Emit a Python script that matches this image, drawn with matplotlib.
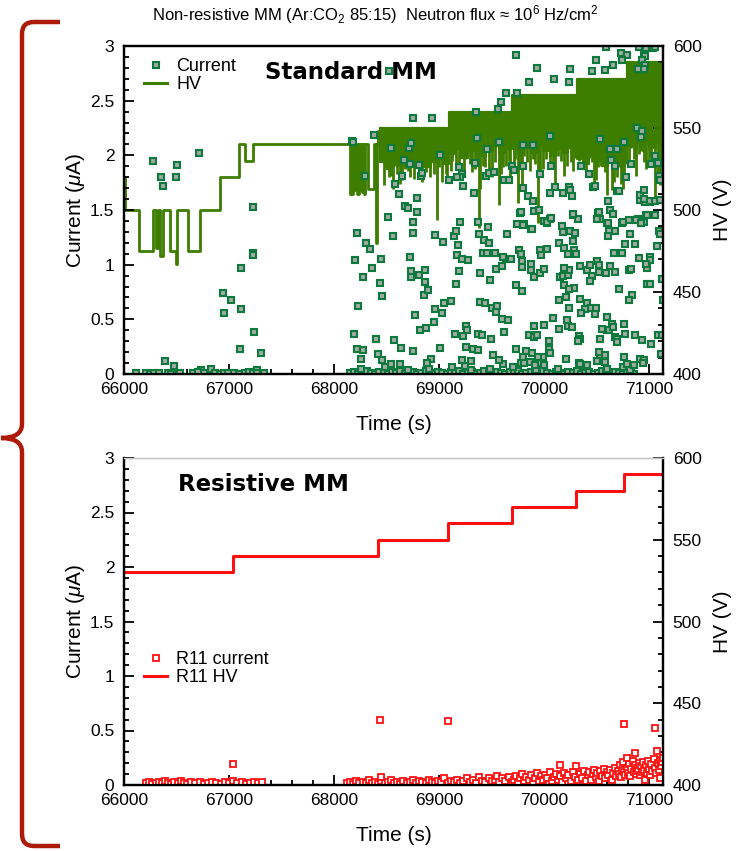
import numpy as np
import matplotlib
matplotlib.use("Agg")
import matplotlib.pyplot as plt
from matplotlib.lines import Line2D
from matplotlib.path import Path
from matplotlib.patches import PathPatch
from matplotlib.ticker import MultipleLocator, FuncFormatter

plt.rcParams['font.family'] = ['Liberation Sans', 'DejaVu Sans']
plt.rcParams['mathtext.fontset'] = 'custom'
plt.rcParams['mathtext.rm'] = 'Liberation Sans'
plt.rcParams['mathtext.it'] = 'Liberation Sans:italic'

# ---------------- data ----------------
t_min, t_max = 66000, 71130

# standard MM: HV steps before the noisy part
std_hv_t = [66000, 66005, 66146, 66279, 66301, 66321, 66343, 66374, 66438, 66495, 66505,
            66613, 66724, 66914, 67095, 67152, 67232,
            68150, 68165, 68172, 68180, 68190, 68198, 68216, 68232, 68241, 68250, 68263,
            68272, 68283, 68295, 68327, 68375, 68395, 68410, 68422, 68430, 68440]
std_hv_v = [520, 500, 475, 500, 477, 500, 472, 500, 475, 467, 500,
            475, 500, 520, 540, 530, 540,
            510, 540, 510, 540, 512, 540, 510, 540, 512, 540, 511,
            540, 510, 540, 513, 540, 480, 540, 548, 540, 550]

# standard MM: noisy HV band (set value and lower edge of the fast oscillation)
band_t = [68440, 68500, 68560, 68620, 68680, 68740, 68800, 68860, 68920, 68980, 69040,
          69090, 69150, 69210, 69270, 69330, 69390, 69450, 69510, 69570, 69630,
          69690, 69750, 69810, 69870, 69930, 69990, 70050, 70110, 70170, 70230, 70290,
          70310, 70370, 70430, 70490, 70550, 70610, 70670, 70730,
          70790, 70860, 70885, 70940, 70948, 71000, 71060, 71140]
band_hi = [550, 550, 550, 550, 550, 550, 550, 550, 550, 550, 550,
           560, 560, 560, 560, 560, 560, 560, 560, 560, 560,
           570, 570, 570, 570, 570, 570, 570, 570, 570, 570, 570,
           580, 580, 580, 580, 580, 580, 580, 580,
           590, 580, 590, 580, 590, 590, 590, 590]
band_lo = [529, 525, 530, 527, 531, 528, 530, 526, 529, 531, 528,
           534, 537, 532, 536, 538, 533, 536, 539, 535, 537,
           537, 534, 538, 535, 539, 536, 533, 537, 535, 538, 536,
           531, 528, 533, 530, 527, 532, 529, 531,
           539, 537, 541, 536, 540, 538, 541, 537]

# standard MM: HV drops (time, lowest value)
spike_t = [68470, 68520, 68559, 68600, 68650, 68700, 68760, 68819, 68870, 68914, 68978, 69030, 69060,
           69110, 69160, 69232, 69290, 69340, 69378, 69391, 69440, 69500, 69565, 69610, 69660,
           69710, 69746, 69787, 69840, 69890, 69937, 69990, 70050, 70105, 70160, 70220, 70270,
           70330, 70380, 70430, 70470, 70510, 70560, 70597, 70640, 70690, 70730, 70760,
           70810, 70850, 70900, 70950, 71000, 71057, 71100,
           68490, 68540, 68580, 68630, 68670, 68720, 68780, 68840, 68890, 68950, 69000, 69075,
           69125, 69190, 69250, 69310, 69360, 69420, 69470, 69530, 69590, 69640, 69675,
           69725, 69770, 69810, 69865, 69910, 69960, 70020, 70080, 70130, 70190, 70250, 70295,
           70350, 70400, 70450, 70490, 70540, 70580, 70620, 70660, 70710, 70745, 70775,
           70830, 70875, 70920, 70970, 71020, 71080, 71120]
spike_v = [515, 520, 513, 522, 518, 524, 519, 521, 523, 520, 494, 517, 522,
           524, 527, 522, 528, 525, 489, 513, 526, 520, 503, 526, 530,
           523, 504, 514, 529, 531, 492, 525, 528, 514, 530, 527, 524,
           530, 528, 532, 514, 526, 531, 509, 512, 520, 516, 521,
           527, 531, 534, 529, 526, 508, 515,
           526, 521, 527, 516, 525, 520, 526, 517, 527, 522, 526, 519,
           530, 526, 531, 523, 529, 527, 524, 529, 522, 527, 519,
           531, 527, 533, 524, 528, 520, 531, 526, 533, 521, 529, 532,
           534, 522, 529, 518, 527, 523, 529, 517, 526, 513, 528,
           538, 521, 536, 525, 533, 521, 529]

# standard MM: current readings (time, current)
std_cur_early = [(66273, 1.95), (66356, 1.80), (66371, 1.72), (66508, 1.91), (66498, 1.80),
                 (66717, 2.02), (67232, 1.53), (67224, 1.11), (67228, 1.09), (67111, 0.97),
                 (66940, 0.74), (67016, 0.68), (66955, 0.56), (67114, 0.59), (67241, 0.38),
                 (67105, 0.23), (67305, 0.195), (66394, 0.12), (66473, 0.07), (66825, 0.05),
                 (66736, 0.04), (67270, 0.04),
                 (66110, 0.005), (66210, 0.01), (66250, 0.0), (66290, 0.01), (66330, 0.005),
                 (66420, 0.01), (66450, 0.0), (66510, 0.01), (66530, 0.005), (66660, 0.01),
                 (66700, 0.015), (66760, 0.005), (66870, 0.01), (66910, 0.0), (66950, 0.01),
                 (66990, 0.005), (67050, 0.01), (67090, 0.0), (67150, 0.01), (67190, 0.015),
                 (67230, 0.005), (67270, 0.01), (67330, 0.005)]

std_cur_high = [(69733, 2.92), (69933, 2.80), (70241, 2.79), (70095, 2.70), (69851, 2.67),
                (70238, 2.67), (70454, 2.77), (70489, 2.87), (70588, 2.99), (70581, 2.78),
                (70654, 2.83), (70734, 2.94), (70788, 2.92), (70740, 2.87), (70905, 2.99),
                (70953, 2.94), (70962, 2.91), (70972, 2.98), (71032, 2.98), (71057, 2.99),
                (70930, 2.87), (70956, 2.83), (70892, 2.79), (70946, 2.79), (68518, 2.77),
                (69632, 2.57), (69743, 2.57), (69584, 2.49), (69559, 2.42), (69352, 2.40),
                (68749, 2.34), (68936, 2.34), (68381, 2.19), (68168, 2.13), (68182, 2.12),
                (68644, 1.81), (68828, 1.81), (68581, 1.74), (68619, 1.65), (68787, 1.61),
                (69089, 1.77), (69184, 1.89), (69216, 1.83), (69200, 1.80), (69225, 1.72),
                (69168, 1.80), (69330, 1.66), (69448, 1.81), (69476, 1.84), (69518, 1.85),
                (69613, 1.77), (69660, 1.77), (69692, 1.90), (69708, 1.87), (69794, 1.90),
                (69797, 1.70), (69844, 1.63), (69892, 1.58), (69946, 1.50), (69959, 1.83),
                (70064, 1.90), (70105, 1.71), (70232, 1.71), (70248, 1.68), (70264, 1.63),
                (70057, 1.66), (70175, 1.66), (70349, 1.90), (70422, 1.83), (70464, 1.71),
                (70479, 1.72), (70607, 1.58), (70638, 1.96), (70676, 1.90), (70692, 1.67),
                (70708, 1.67), (70775, 1.80), (70829, 1.92), (70908, 1.64), (70946, 1.60),
                (71010, 1.58), (71057, 1.58), (71098, 1.59), (70953, 1.68), (71089, 1.81),
                (71098, 1.77), (71051, 1.99), (71079, 1.93), (71019, 1.92), (70924, 2.17),
                (70883, 2.25), (70930, 2.22), (70692, 2.06), (70533, 2.15), (70622, 2.06),
                (70756, 2.12), (70057, 2.18), (69565, 2.12), (69797, 2.09), (69889, 2.09),
                (69454, 2.06), (69359, 2.16), (69343, 1.93), (69010, 2.00), (68809, 1.91),
                (68835, 1.84), (68724, 1.92), (68667, 1.96), (68708, 2.07), (68733, 2.11),
                (68543, 2.07), (68295, 1.81),
                (69778, 1.48), (69797, 1.36), (69883, 1.33), (70273, 1.46), (70025, 1.39),
                (70063, 1.43), (70518, 1.48), (70603, 1.38), (70978, 1.45), (71057, 1.45),
                (70750, 1.39), (70803, 1.41), (70873, 1.41), (70924, 1.38)]

std_cur_mid = [(68517, 1.44), (68222, 1.29), (68305, 1.20), (68343, 1.14), (68194, 1.04),
               (68444, 1.05), (68362, 0.97), (68276, 0.89), (68441, 0.83), (68457, 0.71),
               (68228, 0.62), (68187, 0.37), (68397, 0.32), (68565, 0.31), (68635, 0.24),
               (68222, 0.23), (68279, 0.22), (68413, 0.18), (68254, 0.14), (68454, 0.13),
               (68543, 0.09), (68629, 0.09), (68755, 0.21), (68559, 1.26), (68724, 1.07),
               (68730, 0.94), (68733, 0.89), (68806, 0.91), (68863, 0.95), (68749, 1.29),
               (68752, 1.39), (68787, 1.48), (68676, 1.54), (68702, 1.52), (68857, 0.72),
               (68892, 0.77), (68867, 0.84), (68771, 0.54), (68819, 0.40), (68873, 0.42),
               (68946, 0.48), (68921, 0.14), (68883, 0.10), (69010, 0.24), (68959, 0.59),
               (69022, 0.56), (69048, 0.65), (69114, 0.67), (68962, 1.27), (69035, 1.21),
               (69175, 1.18), (69143, 1.26), (69162, 1.31), (69200, 1.39), (69165, 1.09),
               (69219, 1.05), (69276, 1.04), (69184, 0.94), (69156, 0.82), (69146, 0.37),
               (69226, 0.35), (69257, 0.44), (69263, 0.40), (69257, 0.25), (69321, 0.23),
               (69365, 0.22), (69216, 0.13), (69305, 0.12), (69248, 0.07), (69368, 0.37),
               (69406, 0.36), (69391, 0.66), (69432, 0.65), (69384, 0.92), (69486, 0.86),
               (69543, 0.96), (69594, 0.99), (69416, 1.11), (69457, 1.11), (69530, 1.11),
               (69467, 1.34), (69422, 1.23), (69473, 1.20), (69375, 1.28), (69365, 1.39),
               (69502, 0.60), (69549, 0.62), (69543, 0.57), (69600, 0.50), (69651, 0.49),
               (69492, 0.32), (69613, 0.38), (69508, 0.17), (69603, 0.09), (69565, 0.13),
               (69645, 1.28), (69638, 1.05), (69683, 1.05), (69606, 1.07), (69756, 1.13),
               (69775, 1.10), (69787, 1.03), (69790, 0.98), (69737, 1.37), (69803, 1.37),
               (69765, 1.47), (69876, 1.33), (69902, 1.49), (69730, 0.81), (69787, 0.76),
               (69873, 0.95), (69870, 1.01), (69962, 1.13), (70025, 1.14), (69971, 1.09),
               (69905, 0.89), (69955, 0.92), (69994, 0.96), (69994, 1.40), (70057, 1.42),
               (70022, 1.38), (70172, 1.35), (70175, 1.30), (70270, 1.45), (70321, 1.42),
               (70248, 1.31), (70289, 1.29), (70270, 1.22), (70140, 1.20), (70191, 1.15),
               (70222, 1.10), (70286, 1.13), (70305, 1.10), (70340, 0.99), (70407, 0.95),
               (70438, 1.00), (70457, 0.90), (70432, 0.85), (70505, 1.03), (70524, 1.00),
               (70518, 0.93), (70587, 0.92), (70629, 0.99), (70676, 0.93), (70708, 0.78),
               (70667, 1.11), (70740, 1.11), (70772, 1.19), (70860, 1.19), (70813, 1.28),
               (70660, 1.31), (70676, 1.31), (70616, 1.31), (70610, 1.26), (70597, 1.38),
               (70740, 1.38), (70511, 1.47), (70524, 1.44), (70533, 1.42), (70629, 1.50),
               (70657, 1.46), (70499, 1.42), (70876, 1.41), (70892, 1.42), (70946, 1.39),
               (70971, 1.45), (70914, 1.59), (70962, 1.57), (71010, 1.57), (71095, 1.31),
               (71105, 1.28), (71073, 1.17), (70905, 1.06), (71004, 1.07), (71006, 1.04),
               (70978, 0.97), (70971, 1.01), (70803, 0.95), (70826, 0.96), (70835, 0.72),
               (70810, 0.68), (70978, 0.82), (71003, 0.82), (71121, 0.87), (71127, 0.68),
               (70337, 0.69), (70407, 0.65), (70448, 0.60), (70492, 0.60), (70384, 0.59),
               (70479, 0.55), (70235, 0.60), (70210, 0.70), (70280, 0.79), (70191, 0.81),
               (70235, 0.78), (70146, 0.89), (70178, 0.90), (70226, 0.91), (70232, 0.95),
               (70191, 0.97), (70140, 0.68), (70216, 0.49), (70222, 0.44), (70264, 0.43),
               (70143, 0.41), (70083, 0.51), (69994, 0.45), (69905, 0.44), (69851, 0.36),
               (69898, 0.34), (69930, 0.36), (70045, 0.30), (70045, 0.23), (70051, 0.19),
               (69984, 0.16), (69940, 0.16), (69883, 0.19), (69829, 0.21), (69733, 0.23),
               (69797, 0.16), (69867, 0.11), (69781, 0.10), (69806, 0.10), (69962, 0.10),
               (69994, 0.08), (69908, 0.08), (70207, 0.14), (70327, 0.35), (70343, 0.32),
               (70318, 0.30), (70352, 0.56), (70527, 0.32), (70594, 0.40), (70616, 0.40),
               (70597, 0.52), (70549, 0.41), (70645, 0.46), (70654, 0.43), (70762, 0.46),
               (70765, 0.37), (70670, 0.34), (70692, 0.32), (70695, 0.29), (70867, 0.36),
               (70930, 0.31), (71019, 0.27), (71079, 0.36), (71121, 0.36), (71111, 0.18),
               (70518, 0.20), (70527, 0.15), (70581, 0.17), (70502, 0.12), (70575, 0.11),
               (70756, 0.16), (70749, 0.06), (70787, 0.09), (70851, 0.08), (70908, 0.14),
               (70946, 0.13), (70940, 0.10), (70327, 0.10), (70343, 0.09), (70407, 0.08)]

std_cur_base = [(68150, 0.01), (68190, 0.02), (68230, 0.0), (68270, 0.01), (68310, 0.03),
                (68350, 0.01), (68390, 0.0), (68430, 0.02), (68470, 0.01), (68510, 0.0),
                (68550, 0.02), (68590, 0.01), (68630, 0.03), (68670, 0.0), (68710, 0.01),
                (68750, 0.02), (68790, 0.0), (68830, 0.01), (68870, 0.03), (68910, 0.01),
                (68950, 0.0), (68990, 0.02), (69030, 0.01), (69070, 0.0), (69110, 0.02),
                (69150, 0.01), (69190, 0.03), (69230, 0.0), (69270, 0.01), (69310, 0.02),
                (69350, 0.0), (69390, 0.01), (69430, 0.03), (69470, 0.01), (69510, 0.0),
                (69550, 0.02), (69590, 0.01), (69630, 0.0), (69670, 0.02), (69710, 0.01),
                (69750, 0.03), (69790, 0.0), (69830, 0.01), (69870, 0.02), (69910, 0.0),
                (69950, 0.01), (69990, 0.03), (70030, 0.01), (70070, 0.0), (70110, 0.02),
                (70150, 0.01), (70190, 0.0), (70230, 0.02), (70270, 0.01), (70310, 0.03),
                (70350, 0.0), (70390, 0.01), (70430, 0.02), (70470, 0.0), (70510, 0.01),
                (70550, 0.03), (70590, 0.01), (70630, 0.0), (70670, 0.02), (70710, 0.01),
                (70750, 0.0), (70790, 0.02), (70830, 0.01), (70850, 0.0),
                (68260, 0.05), (68480, 0.06), (68700, 0.04), (68900, 0.05), (69120, 0.06),
                (69300, 0.04), (69480, 0.05), (69700, 0.06), (69920, 0.04), (70130, 0.05),
                (70370, 0.07), (70600, 0.05), (70820, 0.04)]

# resistive MM (R11)
res_hv_t = [66000, 67038, 68420, 69086, 69695, 70300, 70755, 71130]
res_hv_v = [530, 540, 550, 560, 570, 580, 590, 590]

res_cur = [(66210, 0.02), (66240, 0.03), (66270, 0.01), (66300, 0.02), (66330, 0.03),
           (66360, 0.02), (66390, 0.04), (66420, 0.02), (66450, 0.01), (66480, 0.03),
           (66510, 0.02), (66540, 0.04), (66570, 0.02), (66600, 0.01), (66640, 0.03),
           (66680, 0.02), (66720, 0.03), (66760, 0.01), (66800, 0.02), (66840, 0.03),
           (66880, 0.02), (66920, 0.01), (66960, 0.03), (67000, 0.02), (67040, 0.04),
           (67080, 0.02), (67120, 0.03), (67160, 0.01), (67200, 0.02), (67240, 0.03),
           (67280, 0.02), (67310, 0.03),
           (68120, 0.02), (68150, 0.03), (68180, 0.01), (68210, 0.04), (68240, 0.02),
           (68270, 0.03), (68300, 0.02), (68330, 0.05), (68360, 0.02), (68390, 0.03),
           (68420, 0.01), (68450, 0.04), (68480, 0.02), (68510, 0.03), (68540, 0.05),
           (68570, 0.02), (68600, 0.03), (68630, 0.01), (68660, 0.04), (68690, 0.02),
           (68720, 0.03), (68750, 0.05), (68780, 0.02), (68810, 0.04), (68840, 0.03),
           (68870, 0.02), (68900, 0.05), (68930, 0.03), (68960, 0.02), (68990, 0.04),
           (69020, 0.03), (69050, 0.06), (69080, 0.02), (69110, 0.04), (69140, 0.03),
           (69170, 0.05), (69200, 0.02), (69230, 0.04), (69260, 0.06), (69290, 0.03),
           (69320, 0.05), (69350, 0.02), (69380, 0.07), (69410, 0.04), (69440, 0.03),
           (69470, 0.06), (69500, 0.04), (69530, 0.05), (69549, 0.085), (69570, 0.03),
           (69600, 0.06), (69630, 0.04), (69660, 0.07), (69690, 0.03),
           (69710, 0.05), (69730, 0.08), (69750, 0.03), (69770, 0.06), (69790, 0.10),
           (69810, 0.04), (69830, 0.07), (69850, 0.05), (69870, 0.09), (69890, 0.03),
           (69910, 0.06), (69930, 0.11), (69950, 0.04), (69970, 0.08), (69990, 0.05),
           (70010, 0.09), (70030, 0.06), (70050, 0.12), (70070, 0.04), (70090, 0.07),
           (70110, 0.10), (70130, 0.05), (70150, 0.08), (70170, 0.03), (70190, 0.11),
           (70210, 0.06), (70230, 0.09), (70250, 0.04), (70270, 0.12), (70290, 0.07),
           (70305, 0.17), (70320, 0.05), (70340, 0.10), (70360, 0.06), (70380, 0.13),
           (70400, 0.04), (70415, 0.09), (70430, 0.12), (70445, 0.05), (70460, 0.10),
           (70475, 0.14), (70490, 0.07), (70505, 0.11), (70520, 0.04), (70535, 0.13),
           (70550, 0.08), (70565, 0.15), (70580, 0.06), (70595, 0.12), (70610, 0.09),
           (70625, 0.14), (70640, 0.05), (70655, 0.11), (70670, 0.16), (70685, 0.08),
           (70700, 0.13), (70710, 0.10), (70720, 0.18), (70730, 0.07), (70740, 0.14),
           (70750, 0.21), (70760, 0.12), (70770, 0.09), (70787, 0.25), (70790, 0.16),
           (70800, 0.11), (70810, 0.19), (70820, 0.08), (70830, 0.15), (70840, 0.22),
           (70850, 0.12), (70860, 0.18), (70867, 0.29), (70870, 0.10), (70880, 0.16),
           (70890, 0.13), (70900, 0.20), (70910, 0.09), (70920, 0.17), (70930, 0.12),
           (70940, 0.21), (70950, 0.14), (70960, 0.05), (70970, 0.18), (70980, 0.11),
           (70990, 0.22), (71000, 0.15), (71010, 0.09), (71020, 0.19), (71030, 0.13),
           (71040, 0.24), (71050, 0.16), (71060, 0.11), (71073, 0.31), (71080, 0.20),
           (71090, 0.14), (71098, 0.06), (71100, 0.23), (71110, 0.17), (71120, 0.21),
           (71128, 0.25),
           (67038, 0.19), (68438, 0.60), (69086, 0.59), (70152, 0.18), (70762, 0.56),
           (71057, 0.52), (68445, 0.07)]

# ---------------- styling ----------------
green_line = '#3d7d00'
green_edge = '#0b7a3c'
green_face = '#a3aba3'
red = '#ff1010'
brace_color = '#ae1a08'

W, H = 742, 851
fig = plt.figure(figsize=(W / 100, H / 100), dpi=100)

def px_axes(left, right, top, bottom):
    return fig.add_axes([left / W, 1 - bottom / H, (right - left) / W, (bottom - top) / H])

ax1 = px_axes(124, 663, 46, 374)
ax1r = ax1.twinx()
ax2 = px_axes(124, 663, 458, 785)
ax2r = ax2.twinx()

fmt = FuncFormatter(lambda v, p: '%g' % v)

for ax, axr in ((ax1, ax1r), (ax2, ax2r)):
    ax.set_zorder(axr.get_zorder() + 1)
    ax.patch.set_visible(False)
    ax.set_xlim(t_min, t_max)
    ax.set_ylim(0, 3)
    axr.set_ylim(400, 600)
    ax.xaxis.set_major_locator(MultipleLocator(1000))
    ax.xaxis.set_minor_locator(MultipleLocator(200))
    ax.yaxis.set_major_locator(MultipleLocator(0.5))
    ax.yaxis.set_minor_locator(MultipleLocator(0.1))
    ax.yaxis.set_major_formatter(fmt)
    axr.yaxis.set_major_locator(MultipleLocator(50))
    axr.yaxis.set_minor_locator(MultipleLocator(10))
    ax.tick_params(which='both', direction='in', top=False, right=False, labelsize=12.5, width=1.3)
    ax.tick_params(which='major', length=7)
    ax.tick_params(which='minor', length=3.5)
    ax.tick_params(axis='y', pad=7)
    ax.tick_params(axis='x', pad=6)
    axr.tick_params(which='both', direction='in', labelsize=12.5, width=1.3, pad=7)
    axr.tick_params(which='major', length=7)
    axr.tick_params(which='minor', length=3.5)
    for a in (ax, axr):
        for s in a.spines.values():
            s.set_linewidth(1.6)
    ax.set_ylabel('Current ($\\mu$A)', fontsize=15, labelpad=2)
    axr.set_ylabel('HV (V)', fontsize=15, labelpad=8)
    ax.set_xlabel('Time (s)', fontsize=15, labelpad=13)

for a in (ax2, ax2r):
    a.spines['top'].set_color('#c8c8c8')
    a.spines['top'].set_linewidth(1.0)

# ---- top panel: standard MM ----
ax1r.fill_between(band_t, band_lo, band_hi, step='post', color=green_line, lw=1.6)
ax1r.step(std_hv_t, std_hv_v, where='post', color=green_line, lw=2)
band_t_arr = np.array(band_t)
idx = np.searchsorted(band_t_arr, spike_t, side='right') - 1
ax1r.vlines(spike_t, spike_v, np.array(band_hi)[idx], color=green_line, lw=2)

std_pts = np.array(std_cur_early + std_cur_base + std_cur_mid + std_cur_high)
ax1.plot(std_pts[:, 0], std_pts[:, 1], ls='none', marker='s', ms=4.5, mew=1.5,
         mec=green_edge, mfc=green_face, clip_on=True)

h1 = [Line2D([], [], ls='none', marker='s', ms=4.5, mew=1.5, mec=green_edge, mfc=green_face),
      Line2D([], [], color=green_line, lw=2.2)]
ax1.legend(h1, ['Current', 'HV'], loc='upper left', bbox_to_anchor=(0.037, 0.962),
           frameon=False, fontsize=13, handlelength=1.3, handletextpad=0.5,
           labelspacing=0.05, borderpad=0, borderaxespad=0)
ax1.text(0.421, 0.92, 'Standard MM', transform=ax1.transAxes, ha='center', va='center',
         fontsize=16.5, fontweight='bold', family='DejaVu Sans')

# ---- bottom panel: resistive MM ----
ax2r.step(res_hv_t, res_hv_v, where='post', color=red, lw=2.2)
res_pts = np.array(res_cur)
ax2.plot(res_pts[:, 0], res_pts[:, 1], ls='none', marker='s', ms=4, mew=1.3,
         mec=red, mfc='white')

h2 = [Line2D([], [], ls='none', marker='s', ms=4, mew=1.3, mec=red, mfc='white'),
      Line2D([], [], color=red, lw=2.2)]
ax2.legend(h2, ['R11 current', 'R11 HV'], loc='upper left', bbox_to_anchor=(0.037, 0.41),
           frameon=False, fontsize=13, handlelength=1.3, handletextpad=0.5,
           labelspacing=0.05, borderpad=0, borderaxespad=0)
ax2.text(0.258, 0.92, 'Resistive MM', transform=ax2.transAxes, ha='center', va='center',
         fontsize=16.5, fontweight='bold', family='DejaVu Sans')

# ---- title ----
fig.text(375 / W, 1 - 15 / H,
         'Non-resistive MM (Ar:CO$_2$ 85:15)  Neutron flux \u2248 10$^6$ Hz/cm$^2$',
         ha='center', va='center', fontsize=12)

# ---- curly brace at the left ----
def P(x, y):
    return (x / W, 1 - y / H)

verts = [P(60, 22), P(34, 22), P(22, 22), P(22, 34),
         P(22, 424), P(22, 438), P(1, 438),
         P(22, 438), P(22, 452),
         P(22, 834), P(22, 846), P(34, 846), P(60, 846)]
codes = [Path.MOVETO, Path.LINETO, Path.CURVE3, Path.CURVE3,
         Path.LINETO, Path.CURVE3, Path.CURVE3,
         Path.CURVE3, Path.CURVE3,
         Path.LINETO, Path.CURVE3, Path.CURVE3, Path.LINETO]
fig.add_artist(PathPatch(Path(verts, codes), transform=fig.transFigure,
                         fill=False, edgecolor=brace_color, lw=3.2, capstyle='butt',
                         joinstyle='miter'))

fig.savefig('out.png', dpi=100)
